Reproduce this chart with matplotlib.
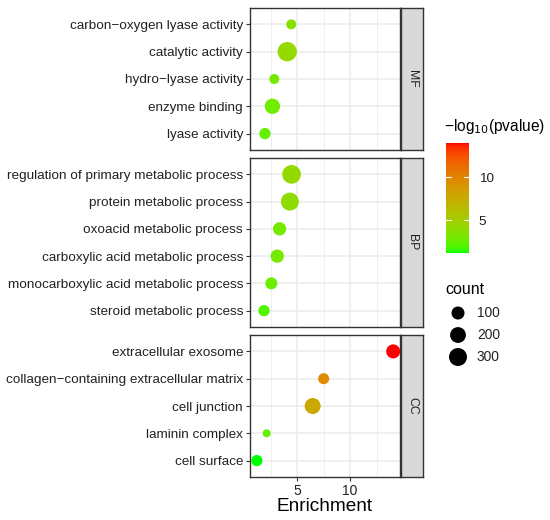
import numpy as np
import matplotlib
matplotlib.use("Agg")
import matplotlib.pyplot as plt
from matplotlib.colors import ListedColormap, Normalize

plt.rcParams['font.family'] = ['Liberation Sans', 'DejaVu Sans']

# ---------------- data ----------------
mf_terms = ["carbon\u2212oxygen lyase activity", "catalytic activity", "hydro\u2212lyase activity",
            "enzyme binding", "lyase activity"]
mf_enrich = [4.44, 4.06, 2.84, 2.66, 1.96]
mf_count = [31, 371, 31, 179, 56]
mf_logp = [3.6, 4.2, 3.0, 2.8, 2.4]

bp_terms = ["regulation of primary metabolic process", "protein metabolic process",
            "oxoacid metabolic process", "carboxylic acid metabolic process",
            "monocarboxylic acid metabolic process", "steroid metabolic process"]
bp_enrich = [4.47, 4.31, 3.34, 3.12, 2.56, 1.87]
bp_count = [338, 301, 109, 109, 73, 56]
bp_logp = [4.2, 4.0, 3.0, 3.0, 2.6, 2.0]

cc_terms = ["extracellular exosome", "collagen\u2212containing extracellular matrix",
            "cell junction", "laminin complex", "cell surface"]
cc_enrich = [14.06, 7.5, 6.46, 2.12, 1.19]
cc_count = [132, 50, 208, 7, 56]
cc_logp = [14.0, 9.6, 7.8, 2.4, 1.2]

facets = ["MF", "BP", "CC"]
legend_counts = [100, 200, 300]
color_ticks = [5, 10]
x_ticks = [5, 10]

groups = [(mf_terms, mf_enrich, mf_count, mf_logp),
          (bp_terms, bp_enrich, bp_count, bp_logp),
          (cc_terms, cc_enrich, cc_count, cc_logp)]

# ---------------- colour scale (Lab interpolation green -> red, like ggplot) ----------------
def srgb_to_lab(rgb):
    rgb = np.asarray(rgb, float)
    lin = np.where(rgb <= 0.04045, rgb / 12.92, ((rgb + 0.055) / 1.055) ** 2.4)
    M = np.array([[0.4124, 0.3576, 0.1805], [0.2126, 0.7152, 0.0722], [0.0193, 0.1192, 0.9505]])
    xyz = M @ lin
    wp = np.array([0.95047, 1.0, 1.08883])
    t = xyz / wp
    f = np.where(t > 0.008856, np.cbrt(t), 7.787 * t + 16 / 116)
    return np.array([116 * f[1] - 16, 500 * (f[0] - f[1]), 200 * (f[1] - f[2])])

def lab_to_srgb(lab):
    L, a, b = lab
    fy_ = (L + 16) / 116
    fx_ = fy_ + a / 500
    fz_ = fy_ - b / 200
    f = np.array([fx_, fy_, fz_])
    t = np.where(f > 0.2069, f ** 3, (f - 16 / 116) / 7.787)
    xyz = t * np.array([0.95047, 1.0, 1.08883])
    Minv = np.array([[3.2406, -1.5372, -0.4986], [-0.9689, 1.8758, 0.0415], [0.0557, -0.2040, 1.0570]])
    lin = Minv @ xyz
    lin = np.clip(lin, 0, 1)
    rgb = np.where(lin <= 0.0031308, 12.92 * lin, 1.055 * lin ** (1 / 2.4) - 0.055)
    return np.clip(rgb, 0, 1)

lab_lo = srgb_to_lab([0, 1, 0])
lab_hi = srgb_to_lab([1, 0, 0])
cm_cols = [lab_to_srgb(lab_lo + (lab_hi - lab_lo) * t) for t in np.linspace(0, 1, 256)]
cmap = ListedColormap(cm_cols)

all_logp = np.concatenate([g[3] for g in groups])
norm = Normalize(vmin=all_logp.min(), vmax=all_logp.max())

all_x = np.concatenate([g[1] for g in groups])
xr = all_x.max() - all_x.min()
xlim = (all_x.min() - 0.05 * xr, all_x.max() + 0.05 * xr)

DPI = 100
def size_of(count):
    d_px = 6.2 + 0.68 * np.sqrt(np.asarray(count, float))
    return (d_px * 72 / DPI) ** 2

# ---------------- figure ----------------
W, H = 550, 520
fig = plt.figure(figsize=(W / DPI, H / DPI), dpi=DPI)

def fx(px):
    return px / W
def fy(py):
    return 1 - py / H

panel_left, panel_right = 250, 400
panel_tb = [(8, 150), (158, 327), (335, 477)]
border_col = "#333333"
grid_col = "#EBEBEB"
text_col = "#222222"

for gi, ((terms, enr, cnt, lp), (top, bot)) in enumerate(zip(groups, panel_tb)):
    ax = fig.add_axes([fx(panel_left), fy(bot), fx(panel_right - panel_left), (bot - top) / H])
    n = len(terms)
    ypos = np.arange(n)
    ax.set_xlim(*xlim)
    ax.set_ylim(n - 0.4, -0.6)
    # grid
    for xv in [2.5, 7.5, 12.5]:
        ax.axvline(xv, color=grid_col, lw=0.55, zorder=0)
    for xv in x_ticks:
        ax.axvline(xv, color=grid_col, lw=1.1, zorder=0)
    for yv in ypos:
        ax.axhline(yv, color=grid_col, lw=1.1, zorder=0)
    ax.scatter(enr, ypos, s=size_of(cnt), c=lp, cmap=cmap, norm=norm, linewidths=0, zorder=3)
    ax.set_yticks(ypos)
    ax.set_yticklabels(terms, fontsize=9.7, color=text_col)
    ax.set_xticks(x_ticks)
    ax.tick_params(axis='both', color=border_col, width=0.8, length=3, pad=2)
    if gi == 2:
        ax.set_xticklabels([str(v) for v in x_ticks], fontsize=10, color=text_col)
        ax.set_xlabel("Enrichment", fontsize=13.7, labelpad=0, color="black")
    else:
        ax.set_xticklabels([])
        ax.tick_params(axis='x', length=0)
    for sp in ax.spines.values():
        sp.set_color(border_col)
        sp.set_linewidth(1.0)
    # strip
    sax = fig.add_axes([fx(panel_right + 1), fy(bot), fx(22), (bot - top) / H])
    sax.set_facecolor("#D9D9D9")
    sax.set_xticks([])
    sax.set_yticks([])
    for sp in sax.spines.values():
        sp.set_color(border_col)
        sp.set_linewidth(1.0)
    sax.text(0.5, 0.5, facets[gi], rotation=-90, ha='center', va='center',
             fontsize=8.8, color=text_col, transform=sax.transAxes)

# ---------------- colourbar ----------------
cax = fig.add_axes([fx(446), fy(252.7), fx(23), 110 / H])
grad = np.linspace(norm.vmin, norm.vmax, 256).reshape(-1, 1)
cax.imshow(grad, aspect='auto', cmap=cmap, norm=norm, origin='lower',
           extent=[0, 1, norm.vmin, norm.vmax])
cax.set_xlim(0, 1)
cax.set_ylim(norm.vmin, norm.vmax)
for t in color_ticks:
    cax.plot([0, 0.2], [t, t], color='white', lw=0.8)
    cax.plot([0.8, 1], [t, t], color='white', lw=0.8)
cax.set_xticks([])
cax.yaxis.tick_right()
cax.set_yticks(color_ticks)
cax.set_yticklabels([str(t) for t in color_ticks], fontsize=9.7, color=text_col)
cax.tick_params(axis='y', length=0, pad=7)
for sp in cax.spines.values():
    sp.set_visible(False)
fig.text(fx(444), fy(127), "\u2212log$_{10}$(pvalue)", fontsize=11.2, ha='left', va='center')

# ---------------- size legend ----------------
fig.text(fx(445), fy(290), "count", fontsize=11.5, ha='left', va='center')
lax = fig.add_axes([0, 0, 1, 1], facecolor='none')
lax.set_xlim(0, W)
lax.set_ylim(H, 0)
lax.axis('off')
leg_y = [313, 335, 357]
lax.scatter([458] * len(legend_counts), leg_y, s=size_of(legend_counts), c='black', linewidths=0)
for cval, yv in zip(legend_counts, leg_y):
    lax.text(477, yv, str(cval), fontsize=9.9, ha='left', va='center', color=text_col)

fig.savefig("out.png", dpi=DPI)
